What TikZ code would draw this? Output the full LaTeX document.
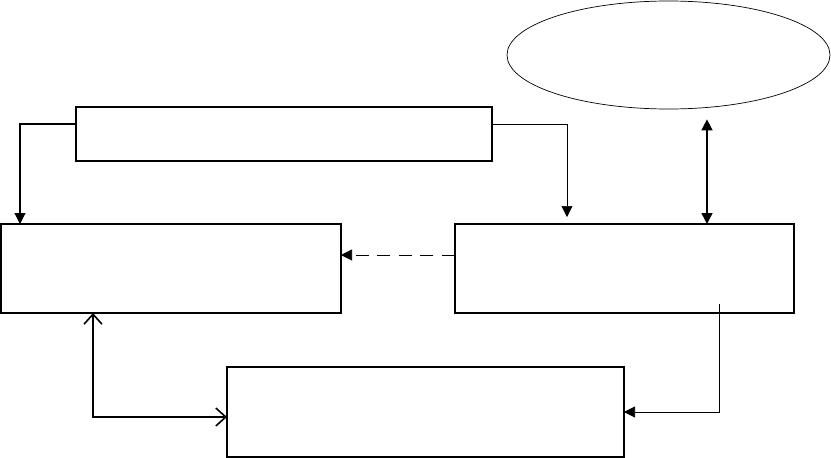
\documentclass[tikz,border=0pt]{standalone}
\usetikzlibrary{arrows.meta, positioning, shapes.geometric}

\begin{document}
\begin{tikzpicture}[x=1pt, y=-1pt,
    box/.style={draw, line width=1.1pt, rectangle, inner sep=0pt, outer sep=0pt},
    tip/.style={-{Triangle[length=11pt,width=11pt]}},
    vee/.style={{Straight Barb[length=10pt,width=18pt,line width=1.6pt]}-{Straight Barb[length=10pt,width=18pt,line width=1.6pt]}}]
    \useasboundingbox (0,0) rectangle (831,458);

    % Boxes
    \node[box, minimum width=416pt, minimum height=54pt] (input) at (284,134) {};
    \node[box, minimum width=340pt, minimum height=89pt] (leftbox) at (171,268.5) {};
    \node[box, minimum width=339pt, minimum height=89pt] (rightbox) at (624.5,268.5) {};
    \node[box, minimum width=397pt, minimum height=90pt] (bottombox) at (425.5,412) {};
    \node[draw, ellipse, line width=0.7pt, minimum width=323pt, minimum height=108pt, inner sep=0pt] (store) at (668.5,55) {};

    % Connectors
    \draw[tip, line width=1.1pt] ([yshift=10pt]input.west) -| ([xshift=19pt]leftbox.north west);
    \draw[tip, line width=0.6pt] ([yshift=10pt]input.east) -| ([xshift=112pt,yshift=7pt]rightbox.north west);
    \path ([yshift=-10pt]store.south) coordinate (storelow);
    \draw[{Triangle[length=11pt,width=11pt]}-{Triangle[length=11pt,width=11pt]}, line width=1.4pt]
        ([xshift=252pt]rightbox.north west |- storelow) -- ([xshift=252pt]rightbox.north west);
    \draw[tip, line width=0.6pt, dash pattern=on 13pt off 8.6pt] ([yshift=13.5pt]rightbox.west) -- ([yshift=13.5pt]leftbox.east);
    \draw[tip, line width=0.6pt] ([xshift=264pt,yshift=9pt]rightbox.south west) |- (bottombox.east);
    \draw[vee, line width=1.1pt] ([xshift=92pt]leftbox.south west) |- ([yshift=-5pt]bottombox.west);
\end{tikzpicture}
\end{document}
